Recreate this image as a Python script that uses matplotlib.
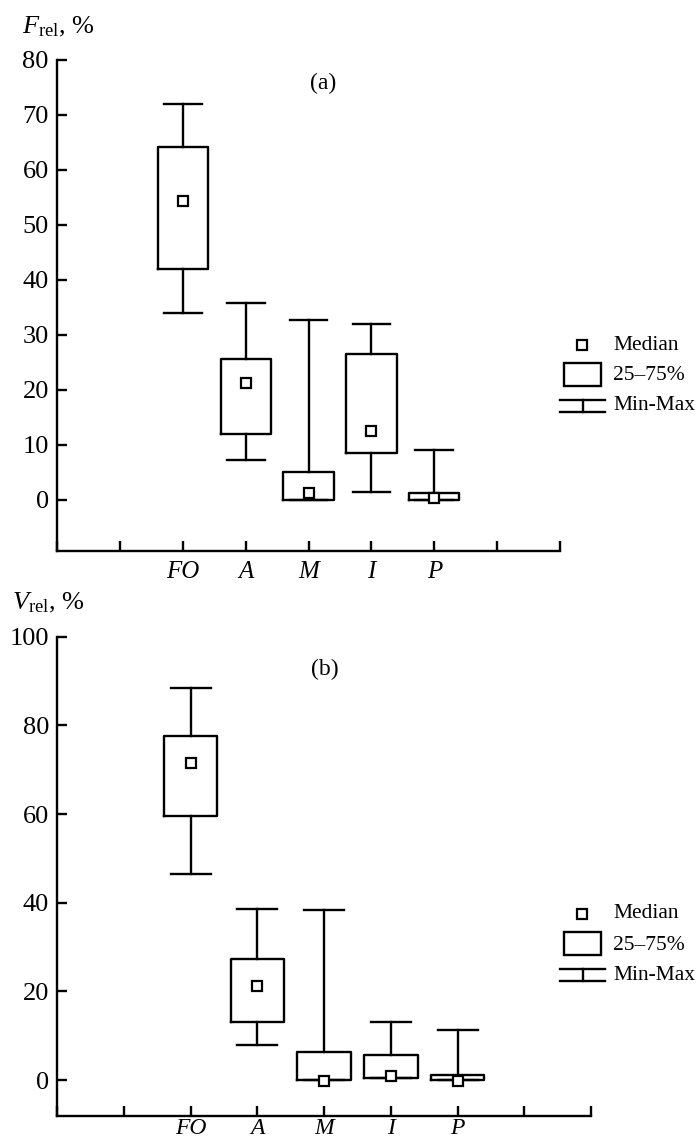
import matplotlib
matplotlib.use("Agg")
import matplotlib.pyplot as plt
from matplotlib.patches import Rectangle
from matplotlib.lines import Line2D

plt.rcParams['font.family'] = ['Liberation Serif', 'DejaVu Serif']
plt.rcParams['mathtext.fontset'] = 'custom'
plt.rcParams['mathtext.rm'] = 'Liberation Serif'
plt.rcParams['mathtext.it'] = 'Liberation Serif:italic'

categories = ['FO', 'A', 'M', 'I', 'P']

# panel (a): F_rel, %
a_min = [34.0, 7.3, 0.0, 1.5, 0.0]
a_q1 = [42.0, 12.0, 0.0, 8.5, 0.0]
a_med = [54.3, 21.3, 1.3, 12.5, 0.3]
a_q3 = [64.2, 25.7, 5.0, 26.5, 1.3]
a_max = [72.0, 35.8, 32.7, 32.0, 9.0]

# panel (b): V_rel, %
b_min = [46.5, 7.8, 0.0, 0.5, 0.0]
b_q1 = [59.5, 13.2, 0.0, 0.5, 0.0]
b_med = [71.5, 21.3, -0.3, 1.0, -0.2]
b_q3 = [77.5, 27.2, 6.3, 5.7, 1.2]
b_max = [88.5, 38.5, 38.3, 13.0, 11.2]

W, H = 700, 1144
fig = plt.figure(figsize=(W / 100, H / 100), dpi=100)

LW = 1.7
positions = [2, 3, 4, 5, 6]


def fx(px):
    return px / W


def fy(py):
    return 1 - py / H


def panel(rect, mins, q1s, meds, q3s, maxs, ylim, yticks, letter, letter_xy, ylab, ylab_xy,
          xpad, xsize):
    ax = fig.add_axes(rect)
    stats = []
    for c, lo, q1, md, q3, hi in zip(categories, mins, q1s, meds, q3s, maxs):
        stats.append(dict(label=c, whislo=lo, q1=q1, med=md, q3=q3, whishi=hi, mean=md, fliers=[]))
    ax.bxp(stats, positions=positions, widths=0.8, capwidths=0.6, showfliers=False,
           showmeans=True, patch_artist=False,
           boxprops=dict(color='black', linewidth=LW),
           whiskerprops=dict(color='black', linewidth=LW),
           capprops=dict(color='black', linewidth=LW),
           medianprops=dict(visible=False),
           meanprops=dict(marker='s', markersize=6.5, markerfacecolor='white',
                          markeredgecolor='black', markeredgewidth=1.6, linestyle='none'))
    ax.set_xlim(0, 8)
    ax.set_ylim(*ylim)
    ax.set_yticks(yticks)
    ax.set_yticklabels([str(t) for t in yticks])
    ax.set_xticks(range(9))
    labels = ['', ''] + categories + ['', '']
    ax.set_xticklabels(labels, fontstyle='italic')
    for s in ('top', 'right'):
        ax.spines[s].set_visible(False)
    for s in ('left', 'bottom'):
        ax.spines[s].set_linewidth(LW)
    ax.spines['left'].set_bounds(ylim[0], yticks[-1])
    ax.tick_params(direction='in', length=7, width=LW, labelsize=19, colors='black')
    ax.tick_params(axis='y', pad=6)
    ax.tick_params(axis='x', pad=xpad, labelsize=xsize)
    ax.text(letter_xy[0], letter_xy[1], letter, ha='center', va='center', fontsize=17)
    fig.text(fx(ylab_xy[0]), fy(ylab_xy[1]), ylab, ha='left', va='center', fontsize=19)
    return ax


axA = panel([fx(57.2), fy(551), fx(560) - fx(57.2), fy(60) - fy(551)],
            a_min, a_q1, a_med, a_q3, a_max, (-9.3, 80), list(range(0, 81, 10)),
            '(a)', (4.23, 75.8), r'$F_{\mathrm{rel}}$, $\mathit{\%}$', (22, 27), 7, 18)
axB = panel([fx(57.3), fy(1115.5), fx(591) - fx(57.3), fy(636.7) - fy(1115.5)],
            b_min, b_q1, b_med, b_q3, b_max, (-8, 100), list(range(0, 101, 20)),
            '(b)', (4.01, 92.5), r'$V_{\mathrm{rel}}$, $\mathit{\%}$', (12, 603), 2, 17)


def legend(dy):
    # median marker
    fig.add_artist(Line2D([fx(581.7)], [fy(345 + dy)], marker='s', markersize=6.5,
                          markerfacecolor='white', markeredgecolor='black',
                          markeredgewidth=1.6, linestyle='none', transform=fig.transFigure))
    fig.text(fx(613), fy(345 + dy), 'Median', ha='left', va='center', fontsize=15.5)
    fig.add_artist(Rectangle((fx(564), fy(386 + dy)), fx(601) - fx(564), fy(363) - fy(386),
                             fill=False, edgecolor='black', linewidth=LW, transform=fig.transFigure))
    fig.text(fx(613), fy(376 + dy), '25–75%', ha='left', va='center', fontsize=15.5)
    for yy in (400, 412):
        fig.add_artist(Line2D([fx(560), fx(605)], [fy(yy + dy)] * 2, color='black',
                              linewidth=LW, transform=fig.transFigure))
    fig.add_artist(Line2D([fx(582.5)] * 2, [fy(400 + dy), fy(412 + dy)], color='black',
                          linewidth=LW, transform=fig.transFigure))
    fig.text(fx(613), fy(406 + dy), 'Min-Max', ha='left', va='center', fontsize=15.5)


legend(0)
legend(569)

fig.savefig('out.png', dpi=100)
